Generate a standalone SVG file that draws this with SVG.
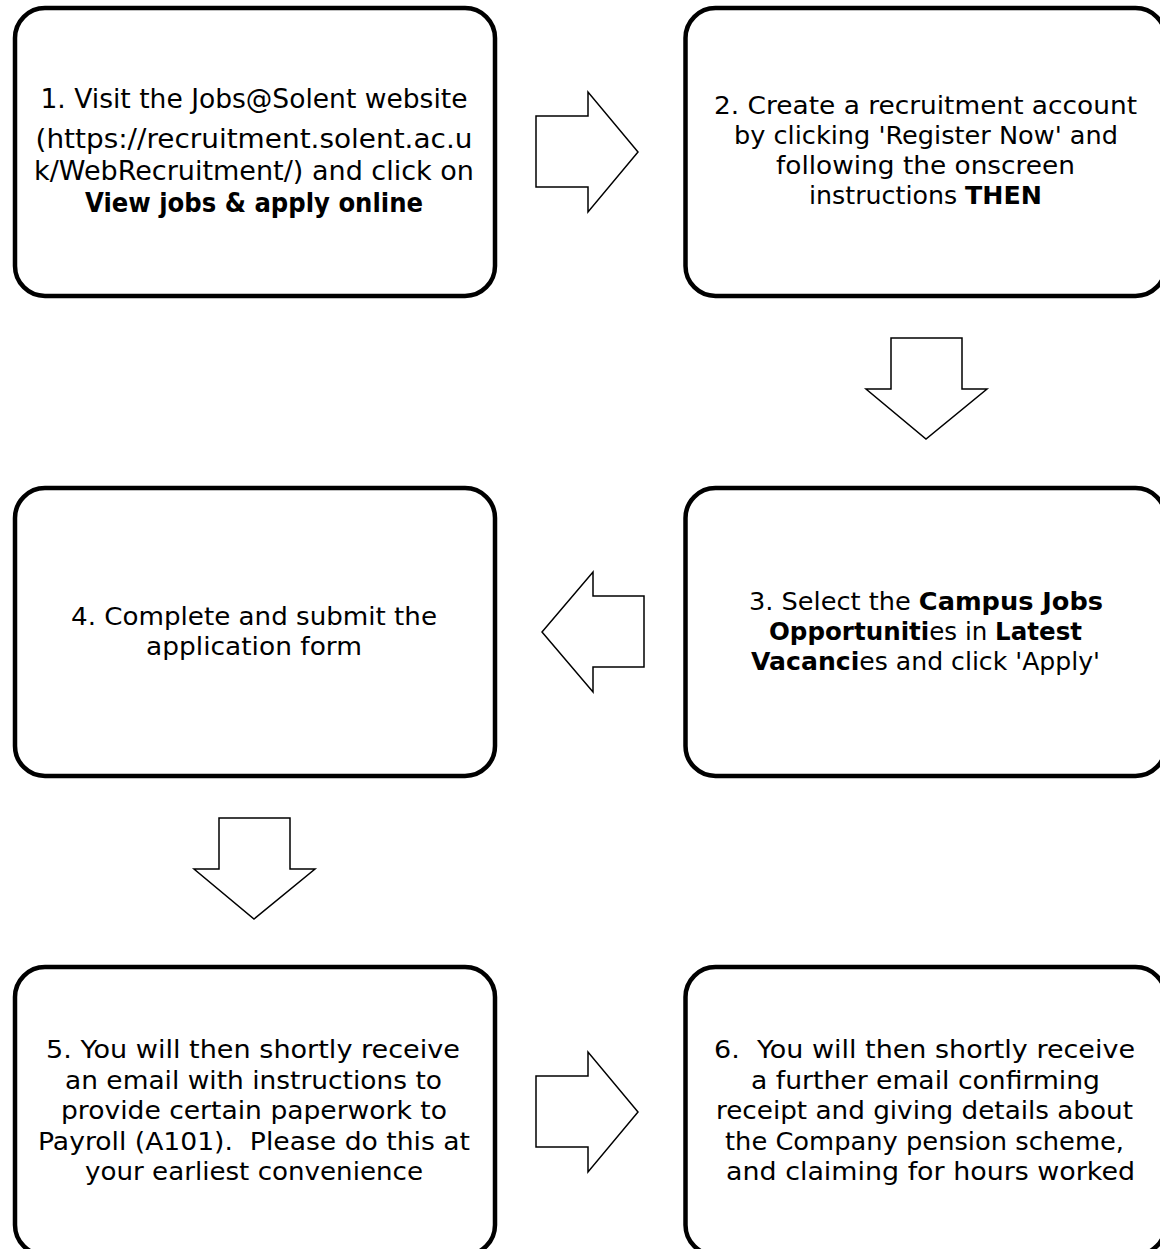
<svg xmlns="http://www.w3.org/2000/svg" width="1160" height="1249" viewBox="0 0 1160 1249">
<style>
.box{fill:#fff;stroke:#000;stroke-width:4.5}
.arr{fill:#fff;stroke:#000;stroke-width:1.5;stroke-linejoin:miter}
text{font-family:"DejaVu Sans","Liberation Sans",sans-serif;font-size:25px;fill:#000;text-anchor:middle}
.big{font-size:26px}
.b{font-weight:bold}
</style>
<rect width="1160" height="1249" fill="#fff"/>
<g id="connectors">
<polygon class="arr" points="536,116 588,116 588,92 638,152 588,212 588,187 536,187"/>
<polygon class="arr" points="891,338 962,338 962,389 987,389 926,439 866,389 891,389"/>
<polygon class="arr" points="644,596 593,596 593,572 542,632 593,692 593,667 644,667"/>
<polygon class="arr" points="219,818 290,818 290,869 315,869 254,919 194,869 219,869"/>
<polygon class="arr" points="536,1076 588,1076 588,1052 638,1112 588,1172 588,1147 536,1147"/>
</g>
<g id="node1">
<rect class="box" x="15" y="8" width="480" height="288" rx="30"/>
<text class="big" x="254" y="108" textLength="427" lengthAdjust="spacingAndGlyphs">1. Visit the Jobs@Solent website</text>
<text class="big" x="254" y="148" textLength="437" lengthAdjust="spacingAndGlyphs">(https://recruitment.solent.ac.u</text>
<text class="big" x="254" y="180" textLength="440" lengthAdjust="spacingAndGlyphs">k/WebRecruitment/) and click on</text>
<text class="big b" x="254" y="212" textLength="338" lengthAdjust="spacingAndGlyphs">View jobs &amp; apply online</text>
</g>
<g id="node2">
<rect class="box" x="685.5" y="8" width="480" height="288" rx="30"/>
<text x="925.5" y="114" textLength="423" lengthAdjust="spacingAndGlyphs">2. Create a recruitment account</text>
<text x="926" y="144" textLength="384" lengthAdjust="spacingAndGlyphs">by clicking 'Register Now' and</text>
<text x="925.5" y="174" textLength="299" lengthAdjust="spacingAndGlyphs">following the onscreen</text>
<text x="925.5" y="204" textLength="233" lengthAdjust="spacingAndGlyphs">instructions <tspan class="b">THEN</tspan></text>
</g>
<g id="node3">
<rect class="box" x="685.5" y="488" width="480" height="288" rx="30"/>
<text x="926" y="610" textLength="354" lengthAdjust="spacingAndGlyphs">3. Select the <tspan class="b">Campus Jobs</tspan></text>
<text x="925.5" y="640" textLength="313" lengthAdjust="spacingAndGlyphs"><tspan class="b">Opportuniti</tspan>es in <tspan class="b">Latest</tspan></text>
<text x="925.5" y="670" textLength="349" lengthAdjust="spacingAndGlyphs"><tspan class="b">Vacanci</tspan>es and click 'Apply'</text>
</g>
<g id="node4">
<rect class="box" x="15" y="488" width="480" height="288" rx="30"/>
<text x="254" y="625" textLength="366" lengthAdjust="spacingAndGlyphs">4. Complete and submit the</text>
<text x="254" y="655" textLength="216" lengthAdjust="spacingAndGlyphs">application form</text>
</g>
<g id="node5">
<rect class="box" x="15" y="967" width="480" height="288" rx="30"/>
<text x="253" y="1058" textLength="414" lengthAdjust="spacingAndGlyphs">5. You will then shortly receive</text>
<text x="253.5" y="1089" textLength="377" lengthAdjust="spacingAndGlyphs">an email with instructions to</text>
<text x="254" y="1119" textLength="386" lengthAdjust="spacingAndGlyphs">provide certain paperwork to</text>
<text x="254" y="1150" textLength="432" lengthAdjust="spacingAndGlyphs" xml:space="preserve">Payroll (A101).  Please do this at</text>
<text x="254" y="1180" textLength="338" lengthAdjust="spacingAndGlyphs">your earliest convenience</text>
</g>
<g id="node6">
<rect class="box" x="685.5" y="967" width="480" height="288" rx="30"/>
<text x="924.5" y="1058" textLength="421" lengthAdjust="spacingAndGlyphs" xml:space="preserve">6.  You will then shortly receive</text>
<text x="925.5" y="1089" textLength="349" lengthAdjust="spacingAndGlyphs">a further email confirming</text>
<text x="924.5" y="1119" textLength="417" lengthAdjust="spacingAndGlyphs">receipt and giving details about</text>
<text x="924.5" y="1150" textLength="399" lengthAdjust="spacingAndGlyphs">the Company pension scheme,</text>
<text x="930.5" y="1180" textLength="409" lengthAdjust="spacingAndGlyphs">and claiming for hours worked</text>
</g>
</svg>
